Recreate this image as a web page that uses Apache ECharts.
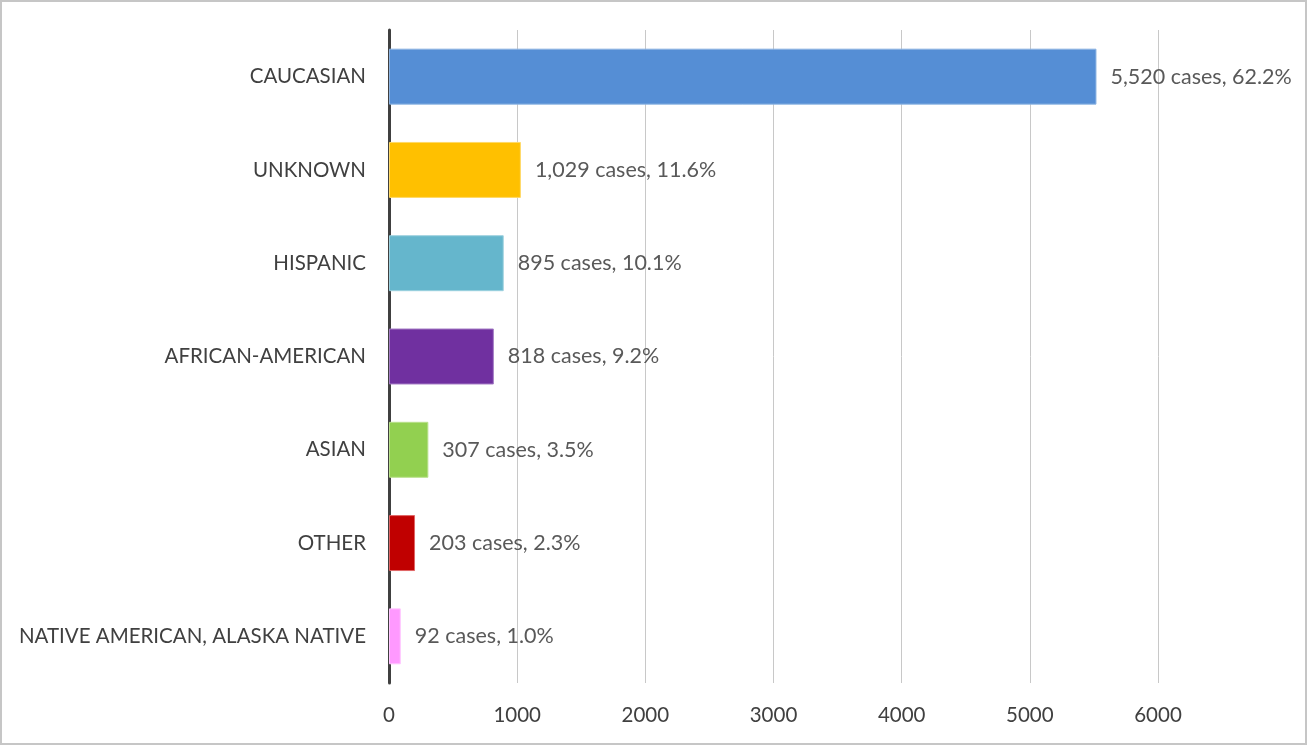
<!DOCTYPE html>
<html>
<head>
<meta charset="utf-8">
<script src="https://cdn.jsdelivr.net/npm/echarts@6/dist/echarts.min.js"></script>
<style>
  html, body { margin: 0; padding: 0; background: #fff; }
  #chart { width: 1307px; height: 745px; }
</style>
</head>
<body>
<div id="chart"></div>
<script>
// Case counts by race / ethnicity
const categories = [
  'CAUCASIAN',
  'UNKNOWN',
  'HISPANIC',
  'AFRICAN-AMERICAN',
  'ASIAN',
  'OTHER',
  'NATIVE AMERICAN, ALASKA NATIVE'
];
const cases = [5520, 1029, 895, 818, 307, 203, 92];
const percents = [62.2, 11.6, 10.1, 9.2, 3.5, 2.3, 1.0];
const barColors = ['#558ED5', '#FFC000', '#65B6CC', '#7030A0', '#92D050', '#C00000', '#FF99FF'];
const barEdges = ['#8DB4E2', '#FFD966', '#9BD0DE', '#A47CC4', '#B8E08A', '#E06666', '#FFC6FF'];
const xTicks = [0, 1000, 2000, 3000, 4000, 5000, 6000];

const fontFamily = 'Lato, "Open Sans", sans-serif';

const chart = echarts.init(document.getElementById('chart'), null, { renderer: 'canvas' });

chart.setOption({
  animation: false,
  backgroundColor: '#ffffff',
  grid: { left: 389, right: 149, top: 30, bottom: 62, containLabel: false },
  xAxis: {
    type: 'value',
    min: xTicks[0],
    max: xTicks[xTicks.length - 1],
    interval: xTicks[1] - xTicks[0],
    axisLine: { show: false },
    axisTick: { show: false },
    splitLine: { show: true, lineStyle: { color: '#c8c8c8', width: 1 } },
    axisLabel: {
      color: '#404040',
      fontFamily: fontFamily,
      fontSize: 20.5,
      margin: 22,
      formatter: v => String(v)
    }
  },
  yAxis: {
    type: 'category',
    inverse: true,
    data: categories,
    axisLine: { show: true, lineStyle: { color: '#404040', width: 3 } },
    axisTick: { show: false },
    axisLabel: {
      color: '#404040',
      fontFamily: fontFamily,
      fontSize: 20.5,
      margin: 23
    }
  },
  series: [{
    type: 'bar',
    barCategoryGap: '40%',
    data: cases.map((v, i) => ({
      value: v,
      itemStyle: { color: barColors[i], borderColor: barEdges[i], borderWidth: 1 }
    })),
    label: {
      show: true,
      position: 'right',
      distance: 14,
      color: '#595959',
      fontFamily: fontFamily,
      fontSize: 21.5,
      formatter: p => p.value.toLocaleString('en-US') + ' cases, ' + percents[p.dataIndex].toFixed(1) + '%'
    }
  }],
  graphic: [{
    type: 'rect',
    shape: { x: 1, y: 1, width: 1305, height: 743 },
    style: { fill: 'none', stroke: '#c6c6c6', lineWidth: 2 },
    silent: true
  }]
});
</script>
</body>
</html>
